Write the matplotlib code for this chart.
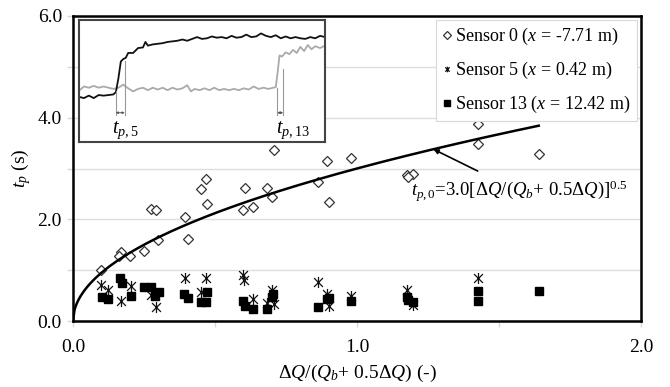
import matplotlib
matplotlib.use("Agg")
import matplotlib.pyplot as plt
from matplotlib.path import Path
import numpy as np

plt.rcParams['font.family'] = ['Liberation Serif', 'DejaVu Serif']
plt.rcParams['mathtext.fontset'] = 'custom'
plt.rcParams['mathtext.rm'] = 'Liberation Serif'
plt.rcParams['mathtext.it'] = 'Liberation Serif:italic'
plt.rcParams['mathtext.bf'] = 'Liberation Serif:bold'

# ---- data ----
s0_x = [0.098, 0.169, 0.163, 0.202, 0.249, 0.300, 0.274, 0.291, 0.393, 0.404, 0.452, 0.469, 0.472,
        0.604, 0.600, 0.633, 0.709, 0.684, 0.702, 0.862, 0.893, 0.903, 0.979, 1.175, 1.196, 1.180,
        1.427, 1.427, 1.641]
s0_y = [1.00, 1.36, 1.28, 1.27, 1.37, 1.59, 2.21, 2.18, 2.05, 1.62, 2.59, 2.80, 2.31,
        2.61, 2.18, 2.24, 3.37, 2.61, 2.43, 2.74, 3.15, 2.34, 3.21, 2.87, 2.90, 2.84,
        3.88, 3.49, 3.28]

s5_x = [0.098, 0.124, 0.169, 0.203, 0.274, 0.291, 0.393, 0.469, 0.452, 0.600, 0.602, 0.633, 0.684,
        0.702, 0.709, 0.862, 0.893, 0.903, 0.979, 1.175, 1.196, 1.427]
s5_y = [0.71, 0.61, 0.39, 0.68, 0.51, 0.27, 0.84, 0.84, 0.58, 0.91, 0.81, 0.43, 0.35,
        0.61, 0.33, 0.77, 0.54, 0.30, 0.49, 0.61, 0.31, 0.85]

s13_x = [0.101, 0.124, 0.165, 0.174, 0.204, 0.250, 0.275, 0.290, 0.303, 0.392, 0.405, 0.451, 0.469,
         0.472, 0.600, 0.604, 0.633, 0.684, 0.702, 0.705, 0.862, 0.895, 0.903, 0.979, 1.175, 1.180,
         1.196, 1.427, 1.427, 1.641]
s13_y = [0.47, 0.43, 0.84, 0.74, 0.49, 0.66, 0.66, 0.50, 0.58, 0.53, 0.46, 0.37, 0.37,
         0.57, 0.39, 0.30, 0.24, 0.24, 0.48, 0.54, 0.28, 0.43, 0.45, 0.39, 0.48, 0.42,
         0.38, 0.59, 0.39, 0.59]

fit_coef = 3.0
fit_exp = 0.5
fit_xmax = 1.64

labels = ["Sensor 0 ($x$ = -7.71 m)", "Sensor 5 ($x$ = 0.42 m)", "Sensor 13 ($x$ = 12.42 m)"]

# inset traces (arbitrary units 0-100)
ins_black_x = [0, 2, 4, 6, 8, 10, 12, 14, 15, 16, 17, 18, 19, 20, 22, 24, 26, 27, 28, 30, 32, 34,
               36, 38, 40, 42, 44, 46, 48, 50, 52, 54, 56, 58, 60, 62, 64, 66, 68, 70, 72, 74, 76,
               78, 80, 82, 84, 86, 88, 90, 92, 94, 96, 98, 100]
ins_black_y = [37, 36, 38, 36, 38.5, 38, 38.5, 39, 41, 52, 66, 68, 69, 73, 73, 77, 77.5, 82, 79,
               80, 80.5, 81, 82, 82.5, 83, 84, 83, 84.5, 86, 84.5, 85, 86.5, 85.5, 86, 85, 87, 85.5,
               86, 88, 86, 86.5, 89, 87, 86, 87.5, 85, 86.5, 85, 86, 85, 84.5, 86, 85, 87, 86]
ins_grey_x = [0, 2, 4, 6, 8, 10, 12, 14, 16, 18, 20, 22, 24, 26, 28, 30, 32, 34, 36, 38, 40, 42, 44,
              45.5, 47, 49, 51, 53, 55, 57, 59, 61, 63, 65, 67, 69, 71, 73, 75, 77, 79, 80, 80.8,
              81.5, 82.5, 84, 85.5, 87, 88.5, 90, 91.5, 93, 94.5, 96, 98, 100]
ins_grey_y = [42, 45.5, 44.5, 46, 44.5, 45.5, 44.5, 43.5, 44.5, 47, 44, 41.5, 43.5, 44.5, 42.5,
              44.5, 43, 44.5, 42.5, 44.5, 43, 44, 46.5, 41.5, 43.5, 42.5, 44, 42.5, 44.5, 42.5,
              43.5, 42.5, 43.5, 42.5, 44, 43, 45.5, 43.5, 44.5, 43.5, 44.5, 45, 58, 71, 70, 73.5,
              72, 75.5, 73, 78, 74.5, 79.5, 76, 78.5, 77, 79]

# ---- figure ----
W, H = 670, 387
fig = plt.figure(figsize=(W / 100, H / 100), dpi=100)
ax = fig.add_axes([73 / W, 66 / H, 568 / W, 305 / H])

ax.set_xlim(0, 2.0)
ax.set_ylim(0, 6.0)
ax.set_yticks(np.arange(0, 6.01, 1.0))
ax.set_yticklabels(['0.0', '', '2.0', '', '4.0', '', '6.0'])
ax.set_xticks(np.arange(0, 2.01, 0.5))
ax.set_xticklabels(['0.0', '', '1.0', '', '2.0'])
ax.tick_params(axis='both', direction='out', length=4, width=1, color='#d8d8d8', labelsize=14)
ax.tick_params(axis='x', pad=9)
ax.tick_params(axis='y', pad=4)
ax.yaxis.grid(True, color='#dedede', linewidth=1)
ax.set_axisbelow(True)
for sp in ax.spines.values():
    sp.set_linewidth(1.8)
    sp.set_color('black')

# star marker: x plus vertical bar
star = Path([(-1, -1), (1, 1), (-1, 1), (1, -1), (0, -1.25), (0, 1.25)],
            [Path.MOVETO, Path.LINETO, Path.MOVETO, Path.LINETO, Path.MOVETO, Path.LINETO])

ax.plot(s0_x, s0_y, linestyle='none', marker='D', markersize=5.5, markerfacecolor='white',
        markeredgecolor='#333333', markeredgewidth=0.9, label=labels[0], zorder=3)
ax.plot(s5_x, s5_y, linestyle='none', marker=star, markersize=8, markerfacecolor='none',
        markeredgecolor='#111111', markeredgewidth=0.9, label=labels[1], zorder=3)
ax.plot(s13_x, s13_y, linestyle='none', marker='s', markersize=6, markerfacecolor='black',
        markeredgecolor='black', label=labels[2], zorder=3)

xf = np.linspace(0, fit_xmax, 300)
ax.plot(xf, fit_coef * xf ** fit_exp, color='black', linewidth=1.8, zorder=4)

xa = 1.269
ax.annotate('', xy=(xa, fit_coef * xa ** fit_exp), xytext=(1.425, 2.95),
            arrowprops=dict(arrowstyle='-|>', color='black', lw=1.2, mutation_scale=7,
                            shrinkA=0, shrinkB=0))
ax.text(1.19, 2.55, r"$t_{p,0}$=3.0[Δ$Q$/($Q_b$+ 0.5Δ$Q$)]$^{0.5}$", fontsize=13.5,
        ha='left', va='center')

ax.set_xlabel("Δ$Q$/($Q_b$+ 0.5Δ$Q$) (-)", fontsize=14, labelpad=5)
ax.set_ylabel("$t_p$ (s)", fontsize=14, labelpad=3)

leg = ax.legend(loc='upper right', bbox_to_anchor=(637 / W, 1 - 20 / H),
                bbox_transform=fig.transFigure, fontsize=13, frameon=True, fancybox=False,
                edgecolor='#d8d8d8', framealpha=1, handlelength=0.5, handletextpad=0.2,
                labelspacing=0.7, borderpad=0.35, borderaxespad=0)
leg.get_frame().set_linewidth(0.8)
for h in leg.legend_handles:
    h.set_markersize(4)

# ---- inset ----
ins = fig.add_axes([79 / W, (H - 142) / H, 246 / W, 122 / H], zorder=5)
ins.set_xlim(0, 100)
ins.set_ylim(0, 100)
ins.set_xticks([])
ins.set_yticks([])
for sp in ins.spines.values():
    sp.set_linewidth(1.5)
    sp.set_color('#444444')
ins.plot(ins_grey_x, ins_grey_y, color='#aaaaaa', linewidth=1.3)
ins.plot(ins_black_x, ins_black_y, color='#111111', linewidth=1.3)

for xv, ytop in [(14.9, 42), (18.6, 66), (80.6, 44), (83.0, 60)]:
    ins.plot([xv, xv], [22, ytop], color='#999999', linewidth=0.8)
ins.annotate('', xy=(14.9, 24), xytext=(18.6, 24),
             arrowprops=dict(arrowstyle='<|-|>', color='#555555', lw=0.7, mutation_scale=3,
                             shrinkA=0, shrinkB=0))
ins.annotate('', xy=(80.6, 24), xytext=(83.0, 24),
             arrowprops=dict(arrowstyle='<|-|>', color='#555555', lw=0.7, mutation_scale=3,
                             shrinkA=0, shrinkB=0))
ins.text(13.5, 10, "$t_{p,5}$", fontsize=14.5, ha='left', va='center')
ins.text(80.0, 10, "$t_{p,13}$", fontsize=14.5, ha='left', va='center')

fig.savefig('out.png', dpi=100)
